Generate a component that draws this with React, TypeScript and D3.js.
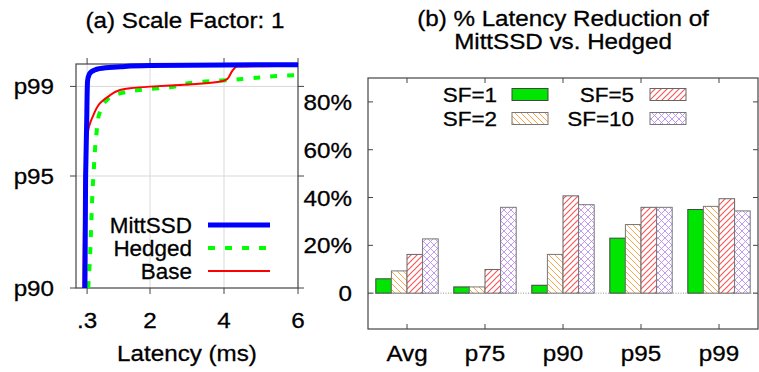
import * as d3 from 'd3';

// ---- panel (a): latency CDF, [latency ms, percentile] ----
const cdfMittSSD: [number, number][] = [
  [0.24, 90], [0.26, 95], [0.29, 97.5], [0.31, 99.2], [0.36, 99.55], [0.5, 99.73],
  [0.8, 99.83], [1.2, 99.88], [2, 99.93], [4, 99.96], [6, 99.97],
];
const cdfHedged: [number, number][] = [
  [0.33, 90], [0.36, 90.8], [0.47, 95], [0.56, 97.0], [0.62, 97.72], [0.83, 98.39],
  [1.19, 98.69], [1.73, 98.84], [2.54, 98.96], [3.18, 99.17], [3.7, 99.24],
  [4.16, 99.29], [4.7, 99.36], [5.69, 99.48], [6, 99.5],
];
const cdfBase: [number, number][] = [
  [0.2, 90], [0.24, 95], [0.31, 96.8], [0.35, 97.2], [0.47, 97.72], [0.69, 98.32],
  [0.87, 98.54], [1.19, 98.84], [1.46, 98.92], [2, 98.99], [2.81, 99.06],
  [3.97, 99.24], [4.1, 99.35], [4.16, 99.51], [4.25, 99.75], [4.34, 99.88], [5.38, 99.91],
];
const latencyTicks = [0.3, 2, 4, 6];
const latencyTickLabels = ['.3', '2', '4', '6'];
const pctTicks = [90, 95, 99];
const pctTickLabels = ['p90', 'p95', 'p99'];

// ---- panel (b): % latency reduction ----
const categories = ['Avg', 'p75', 'p90', 'p95', 'p99'];
const seriesKeys = ['SF=1', 'SF=2', 'SF=5', 'SF=10'];
const sf1 = [6, 2.6, 3.3, 23, 35];
const sf2 = [9.3, 2.6, 16.2, 28.7, 36.3];
const sf5 = [16.2, 9.9, 40.7, 35.9, 39.5];
const sf10 = [22.7, 35.9, 37, 35.9, 34.4];
const reductionTicks = [0, 20, 40, 60, 80];

const FONT = '"Liberation Sans", Arial, Helvetica, sans-serif';
const SX = 1.1; // text in the source is slightly wide

function T({ x, y, anchor = 'middle', size = 22, sx = SX, children }: any) {
  return (
    <text
      transform={`translate(${x},${y}) scale(${sx},1)`}
      textAnchor={anchor}
      fontSize={size}
      fontFamily={FONT}
      fill="#000"
      stroke="#000"
      strokeWidth={0.3}
    >
      {children}
    </text>
  );
}

export default function App() {
  // panel (a)
  const ax = d3.scaleLinear().domain([0, 6]).range([76, 298]);
  const ay = d3.scaleLinear().domain([90, 100]).range([288, 64]);
  const line = d3.line<[number, number]>()
    .x((d) => ax(d[0]))
    .y((d) => ay(d[1]))
    .curve(d3.curveMonotoneY);

  // panel (b)
  const bx = d3.scaleBand<string>().domain(categories).range([368, 758]).paddingInner(0.2).paddingOuter(0.1);
  const bxInner = d3.scaleBand<string>().domain(seriesKeys).range([0, bx.bandwidth()]);
  const by = d3.scaleLinear().domain([-15, 90]).range([329, 78]);
  const seriesValues = [sf1, sf2, sf5, sf10];
  const fills = ['#00e600', 'url(#hatchSF2)', 'url(#hatchSF5)', 'url(#hatchSF10)'];
  const strokes = ['#444', '#777', '#666', '#777'];
  const catCenter = (c: string) => (bx(c) as number) + bx.bandwidth() / 2;
  const bLeft = 368, bRight = 758, bTop = 78, bBottom = 329;

  const legendRows = [
    { key: 'SF=1', tx: 497, sw: 512, y: 88.5, i: 0 },
    { key: 'SF=5', tx: 634, sw: 650, y: 88.5, i: 2 },
    { key: 'SF=2', tx: 497, sw: 512, y: 112.5, i: 1 },
    { key: 'SF=10', tx: 634, sw: 650, y: 112.5, i: 3 },
  ];

  const cdfLegend = [
    { name: 'MittSSD', y: 225, stroke: '#0000ff', width: 5, dash: undefined },
    { name: 'Hedged', y: 248, stroke: '#00ff00', width: 4, dash: '7,10' },
    { name: 'Base', y: 271, stroke: '#ff0000', width: 2, dash: undefined },
  ];

  return (
    <svg width={759} height={372} style={{ position: 'absolute', left: 0, top: 0, background: '#fff' }}>
      <defs>
        <pattern id="hatchSF2" patternUnits="userSpaceOnUse" width={6} height={6}>
          <rect width={6} height={6} fill="#ffffff" />
          <line x1={-1} y1={-1} x2={7} y2={7} stroke="#f5a850" strokeWidth={1} />
          <line x1={-1} y1={5} x2={1} y2={7} stroke="#f5a850" strokeWidth={1} />
          <line x1={5} y1={-1} x2={7} y2={1} stroke="#f5a850" strokeWidth={1} />
        </pattern>
        <pattern id="hatchSF5" patternUnits="userSpaceOnUse" width={6} height={6} patternTransform="scale(-1,1)">
          <rect width={6} height={6} fill="#ffffff" />
          <line x1={-1} y1={-1} x2={7} y2={7} stroke="#f25c5c" strokeWidth={1.2} />
          <line x1={-1} y1={5} x2={1} y2={7} stroke="#f25c5c" strokeWidth={1.2} />
          <line x1={5} y1={-1} x2={7} y2={1} stroke="#f25c5c" strokeWidth={1.2} />
        </pattern>
        <pattern id="hatchSF10" patternUnits="userSpaceOnUse" width={7} height={7}>
          <rect width={7} height={7} fill="#ffffff" />
          <line x1={-1} y1={-1} x2={8} y2={8} stroke="#b98ef2" strokeWidth={0.9} />
          <line x1={-1} y1={8} x2={8} y2={-1} stroke="#b98ef2" strokeWidth={0.9} />
        </pattern>
      </defs>

      {/* ---------- panel (a) ---------- */}
      <T x={185} y={28}>(a) Scale Factor: 1</T>

      {latencyTicks.filter((t) => t < 6).map((t) => (
        <line key={`gx${t}`} x1={ax(t)} x2={ax(t)} y1={64} y2={288} stroke="#d9d9d9" />
      ))}
      {[95, 99].map((p) => (
        <line key={`gy${p}`} x1={76} x2={298} y1={ay(p)} y2={ay(p)} stroke="#d9d9d9" />
      ))}
      <rect x={76} y={64} width={222} height={224} fill="none" stroke="#444" strokeWidth={1.2} />
      {latencyTicks.map((t, i) => (
        <g key={`xt${t}`}>
          <line x1={ax(t)} x2={ax(t)} y1={288} y2={294} stroke="#444" />
          <line x1={ax(t)} x2={ax(t)} y1={58} y2={64} stroke="#444" />
          <T x={ax(t)} y={328}>{latencyTickLabels[i]}</T>
        </g>
      ))}
      {pctTicks.map((p, i) => (
        <g key={`yt${p}`}>
          <line x1={70} x2={76} y1={ay(p)} y2={ay(p)} stroke="#444" />
          <line x1={298} x2={304} y1={ay(p)} y2={ay(p)} stroke="#444" />
          <T x={54} y={ay(p) + 8} anchor="end">{pctTickLabels[i]}</T>
        </g>
      ))}
      <T x={187} y={361}>Latency (ms)</T>

      <path d={line(cdfHedged) ?? ''} fill="none" stroke="#00ff00" strokeWidth={4} strokeDasharray="7,10" />
      <path d={line(cdfBase) ?? ''} fill="none" stroke="#ff0000" strokeWidth={2} />
      <path d={line(cdfMittSSD) ?? ''} fill="none" stroke="#0000ff" strokeWidth={5} />

      {cdfLegend.map((l) => (
        <g key={l.name}>
          <T x={192} y={l.y + 7.5} anchor="end" sx={1.02}>{l.name}</T>
          <line x1={208} x2={270} y1={l.y} y2={l.y} stroke={l.stroke} strokeWidth={l.width} strokeDasharray={l.dash} />
        </g>
      ))}

      {/* ---------- panel (b) ---------- */}
      <T x={563} y={26}>(b) % Latency Reduction of</T>
      <T x={563} y={49}>MittSSD vs. Hedged</T>

      <line x1={bLeft} x2={bRight} y1={by(0)} y2={by(0)} stroke="#777" strokeWidth={0.8} strokeDasharray="1,1.5" />

      {categories.map((c, ci) => (
        <g key={c}>
          {seriesValues.map((vals, si) => (
            <rect
              key={seriesKeys[si]}
              x={(bx(c) as number) + (bxInner(seriesKeys[si]) as number)}
              y={by(vals[ci])}
              width={bxInner.bandwidth()}
              height={by(0) - by(vals[ci])}
              fill={fills[si]}
              stroke={strokes[si]}
              strokeWidth={1}
            />
          ))}
        </g>
      ))}

      <rect x={bLeft} y={bTop} width={bRight - bLeft} height={bBottom - bTop} fill="none" stroke="#444" strokeWidth={1.2} />
      {categories.map((c) => (
        <g key={`ct${c}`}>
          <line x1={catCenter(c)} x2={catCenter(c)} y1={bTop} y2={bTop + 5} stroke="#444" />
          <line x1={catCenter(c)} x2={catCenter(c)} y1={bBottom - 5} y2={bBottom} stroke="#444" />
          <T x={catCenter(c)} y={361}>{c}</T>
        </g>
      ))}
      {reductionTicks.map((t) => (
        <g key={`rt${t}`}>
          <line x1={bLeft} x2={bLeft + 5} y1={by(t)} y2={by(t)} stroke="#444" />
          <line x1={bRight - 5} x2={bRight} y1={by(t)} y2={by(t)} stroke="#444" />
          <T x={352} y={by(t) + 8} anchor="end">{t === 0 ? '0' : `${t}%`}</T>
        </g>
      ))}

      {legendRows.map((r) => (
        <g key={r.key}>
          <T x={r.tx} y={r.y + 13} anchor="end" size={21} sx={1.07}>{r.key}</T>
          <rect x={r.sw} y={r.y} width={36} height={12} fill={fills[r.i]} stroke={strokes[r.i]} strokeWidth={1} />
        </g>
      ))}
    </svg>
  );
}
